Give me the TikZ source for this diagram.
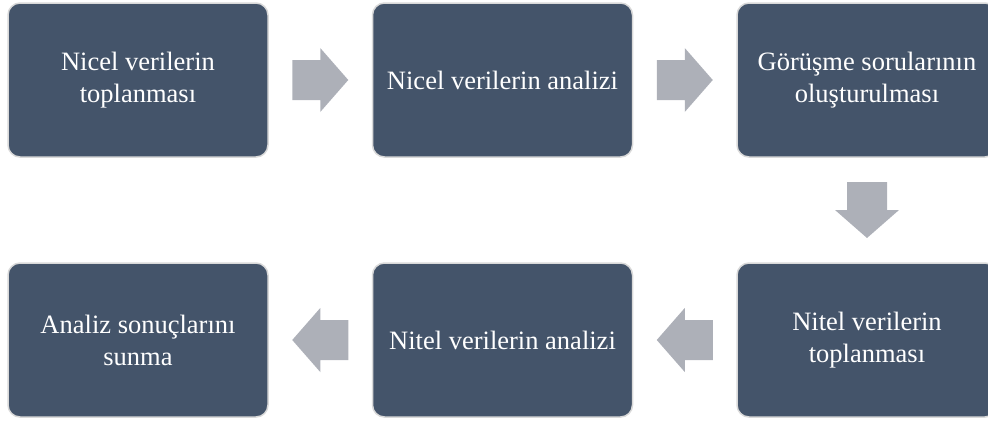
\documentclass[tikz,border=0pt]{standalone}
\usepackage{fontspec}
\setmainfont{Liberation Serif}
\usetikzlibrary{calc}
\definecolor{boxfill}{HTML}{44546A}
\definecolor{boxline}{HTML}{D9D9D9}
\definecolor{arrowgray}{HTML}{ADB0B8}
\tikzset{
  stepbox/.style={draw=boxline, line width=1.5pt, fill=boxfill, rounded corners=12pt,
    minimum width=260pt, minimum height=154pt, inner sep=0pt, align=center,
    text=white, font=\fontsize{26.5}{32}\selectfont},
  flowarrow/.pic={\fill[arrowgray] (-28,-20) -- (0,-20) -- (0,-32) -- (28,0)
    -- (0,32) -- (0,20) -- (-28,20) -- cycle;}
}
\begin{document}
\begin{tikzpicture}[x=1pt,y=-1pt]
\useasboundingbox (0,0) rectangle (988,421);
\node[stepbox] (b1) at (138,80) {Nicel verilerin\\toplanması};
\node[stepbox] (b2) at (502.5,80) {Nicel verilerin analizi};
\node[stepbox] (b3) at (867,80) {Görüşme sorularının\\oluşturulması};
\node[stepbox] (b4) at (867,340) {Nitel verilerin\\toplanması};
\node[stepbox] (b5) at (502.5,340) {Nitel verilerin analizi};
\node[stepbox] (b6) at (138,340) {Analiz sonuçlarını\\sunma};
\pic at ($(b1.east)!0.5!(b2.west)$) {flowarrow};
\pic at ($(b2.east)!0.5!(b3.west)$) {flowarrow};
\pic[rotate=-90] at ($(b3.south)!0.5!(b4.north)$) {flowarrow};
\pic[rotate=180] at ($(b4.west)!0.5!(b5.east)$) {flowarrow};
\pic[rotate=180] at ($(b5.west)!0.5!(b6.east)$) {flowarrow};
\end{tikzpicture}
\end{document}
